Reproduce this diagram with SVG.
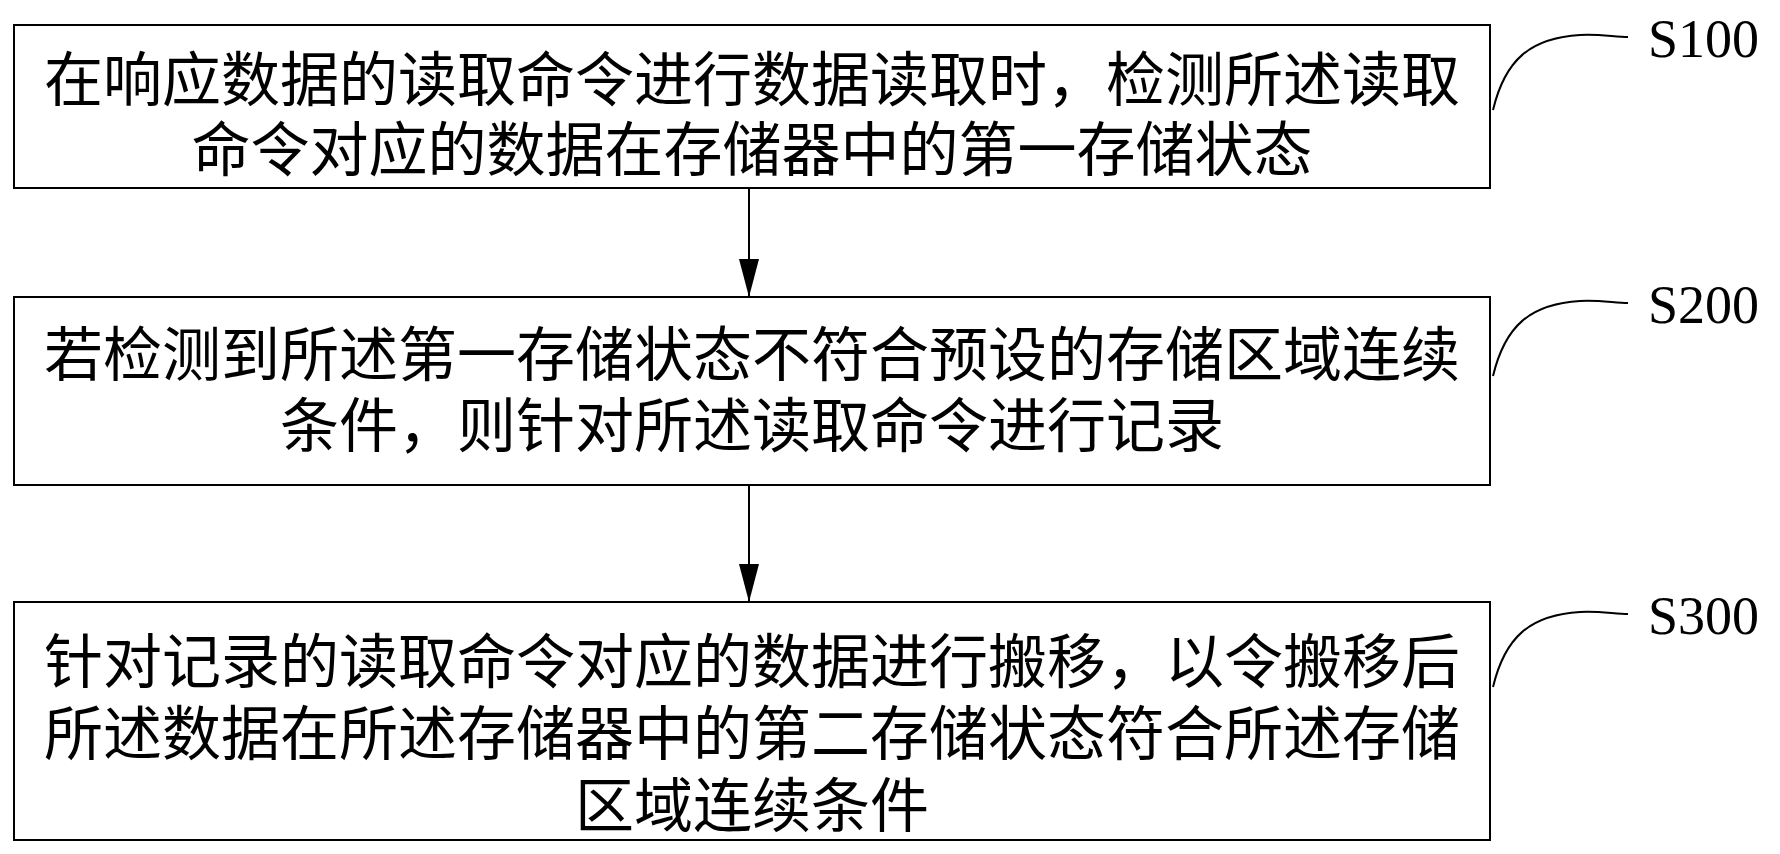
<svg xmlns="http://www.w3.org/2000/svg" width="1780" height="854" viewBox="0 0 1780 854">
<style>
.b{fill:#fff;stroke:#000;stroke-width:2}
.t{font-family:"Liberation Serif","Noto Sans CJK SC",serif;font-size:59px;text-anchor:middle;fill:#000}
.s{font-family:"Liberation Serif",serif;font-size:54px;fill:#000}
.c{fill:none;stroke:#000;stroke-width:2}
</style>
<defs>
<marker id="h" markerWidth="38" markerHeight="20" refX="38" refY="10" orient="auto" markerUnits="userSpaceOnUse"><path d="M0,0 L38,10 L0,20 Z" fill="#000"/></marker></defs>
<rect width="1780" height="854" fill="#fff"/>
<g id="n1"><rect class="b" x="14" y="25" width="1476" height="163"/>
<text class="t" x="752" y="101">在响应数据的读取命令进行数据读取时，检测所述读取</text>
<text class="t" x="752" y="171">命令对应的数据在存储器中的第一存储状态</text></g>
<g id="n2"><rect class="b" x="14" y="297" width="1476" height="188"/>
<text class="t" x="752" y="376">若检测到所述第一存储状态不符合预设的存储区域连续</text>
<text class="t" x="752" y="447">条件，则针对所述读取命令进行记录</text></g>
<g id="n3"><rect class="b" x="14" y="602" width="1476" height="238"/>
<text class="t" x="752" y="683">针对记录的读取命令对应的数据进行搬移，以令搬移后</text>
<text class="t" x="752" y="755">所述数据在所述存储器中的第二存储状态符合所述存储</text>
<text class="t" x="752" y="827">区域连续条件</text></g>
<g id="labels">
<text class="s" x="1648" y="57">S100</text>
<text class="s" x="1648" y="323">S200</text>
<text class="s" x="1648" y="634">S300</text>
</g>
<g id="connectors">
<line class="c" x1="749" y1="188" x2="749" y2="297" marker-end="url(#h)"/>
<line class="c" x1="749" y1="485" x2="749" y2="602" marker-end="url(#h)"/>
<path class="c" d="M1493,110 C1505,60 1530,38 1580,35 C1600,34 1615,37 1628,37"/>
<path class="c" d="M1493,376 C1505,326 1530,304 1580,301 C1600,300 1615,303 1628,303"/>
<path class="c" d="M1493,687 C1505,637 1530,615 1580,612 C1600,611 1615,614 1628,614"/>
</g>
</svg>
